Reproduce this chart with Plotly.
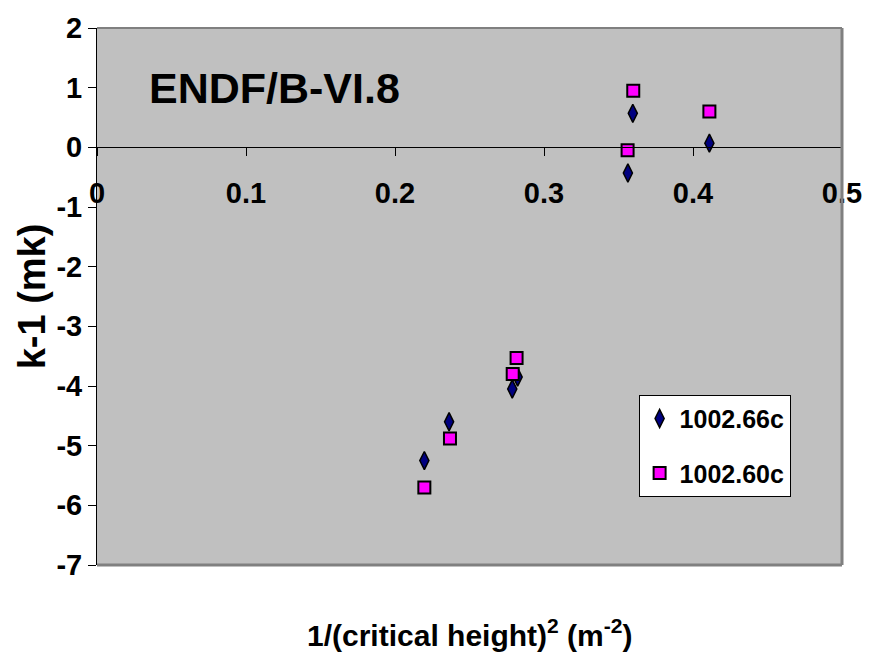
import plotly.graph_objects as go

# 1/(critical height)^2 in m^-2 and reactivity bias k-1 in mk
x_66c = [0.2197, 0.2363, 0.2787, 0.2823, 0.3563, 0.3596, 0.4110]
y_66c = [-5.25, -4.60, -4.05, -3.85, -0.43, 0.57, 0.07]

x_60c = [0.2197, 0.2369, 0.2790, 0.2816, 0.3561, 0.3599, 0.4110]
y_60c = [-5.70, -4.88, -3.80, -3.53, -0.05, 0.95, 0.60]

x_ticks = [0, 0.1, 0.2, 0.3, 0.4, 0.5]
x_tick_text = ["0", "0.1", "0.2", "0.3", "0.4", "0.5"]
y_ticks = [2, 1, 0, -1, -2, -3, -4, -5, -6, -7]
y_tick_text = ["2", "1", "0", "-1", "-2", "-3", "-4", "-5", "-6", "-7"]

FONT = "Liberation Sans, Arial, sans-serif"

fig = go.Figure()
fig.add_trace(go.Scatter(
    x=x_66c, y=y_66c, mode="markers", name="1002.66c", legendgroup="a",
    marker=dict(symbol="diamond-tall", size=13, color="#000080",
                line=dict(color="black", width=1.5)),
))
fig.add_trace(go.Scatter(
    x=x_60c, y=y_60c, mode="markers", name="1002.60c", legendgroup="b",
    marker=dict(symbol="square", size=12, color="#FF00FF",
                line=dict(color="black", width=2)),
))

fig.update_layout(
    width=874, height=658,
    margin=dict(l=97, r=23, t=23, b=93),
    paper_bgcolor="white",
    plot_bgcolor="#C0C0C0",
    font=dict(family=FONT, color="black"),
    showlegend=True,
    legend=dict(
        x=0.727, y=0.317, xanchor="left", yanchor="top",
        bgcolor="white", bordercolor="black", borderwidth=1,
        font=dict(size=25, family=FONT, weight="bold"),
        traceorder="grouped", tracegroupgap=19,
        itemwidth=30,
    ),
    xaxis=dict(
        range=[0, 0.5], tickvals=x_ticks, ticktext=x_tick_text,
        anchor="free", position=7 / 9,
        showline=True, linecolor="black", linewidth=1,
        ticks="outside", ticklen=8, tickcolor="black", tickwidth=1,
        ticklabelstandoff=12,
        tickfont=dict(size=29, family=FONT, weight="bold"),
        showgrid=False, zeroline=False,
    ),
    yaxis=dict(
        range=[-7, 2], tickvals=y_ticks, ticktext=y_tick_text,
        showline=True, linecolor="black", linewidth=1,
        ticks="outside", ticklen=8, tickcolor="black", tickwidth=1,
        tickfont=dict(size=29, family=FONT, weight="bold"),
        showgrid=False, zeroline=False,
    ),
    shapes=[
        dict(type="line", xref="paper", yref="paper", x0=0, x1=1, y0=1, y1=1,
             line=dict(color="#808080", width=2)),
        dict(type="line", xref="paper", yref="paper", x0=1, x1=1, y0=0, y1=1,
             line=dict(color="#808080", width=3)),
        dict(type="line", xref="paper", yref="paper", x0=0, x1=1, y0=0, y1=0,
             line=dict(color="#808080", width=3)),
    ],
    annotations=[
        dict(text="<b>ENDF/B-VI.8</b>", xref="paper", yref="paper",
             x=0.0676, y=0.889, xanchor="left", yanchor="middle",
             showarrow=False, font=dict(size=43, family=FONT)),
        dict(text="<b>1/(critical height)<sup>2</sup> (m<sup>-2</sup>)</b>",
             xref="paper", yref="paper", x=0.5, y=-0.127,
             xanchor="center", yanchor="middle", showarrow=False,
             font=dict(size=30, family=FONT)),
        dict(text="<b>k-1 (mk)</b>", xref="paper", yref="paper",
             x=-0.0875, y=0.5, xanchor="center", yanchor="middle",
             textangle=-90, showarrow=False, font=dict(size=38, family=FONT)),
    ],
)

fig.write_html("out.html")
